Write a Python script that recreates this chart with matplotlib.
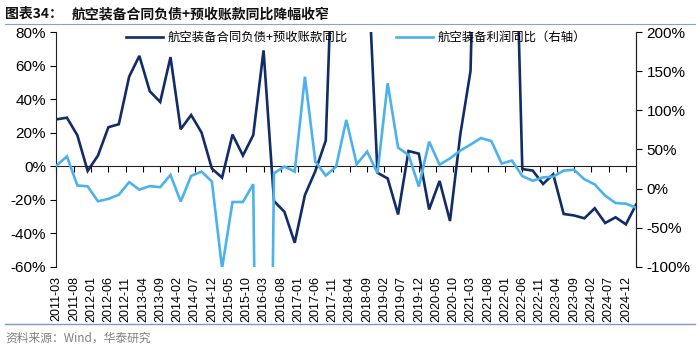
import numpy as np
import pandas as pd
import matplotlib
matplotlib.use("Agg")
import matplotlib.pyplot as plt
from matplotlib.ticker import FuncFormatter, MultipleLocator
from matplotlib.font_manager import FontProperties

plt.rcParams['font.family'] = ['Liberation Sans', 'Noto Sans CJK SC']

# ---------- data (quarterly, 2011-03 .. 2025-03) ----------
quarters = pd.date_range("2011-03-01", periods=57, freq="3MS")
tick_dates = pd.date_range("2011-03-01", "2024-12-01", freq="5MS")

# 航空装备合同负债+预收账款同比 (left axis, %)
contract_yoy = [28.0, 29.0, 18.5, -2.8, 6.4, 23.3, 25.1, 53.5, 65.9, 44.8,
                38.4, 65.2, 22.1, 30.6, 20.1, -1.4, -6.8, 18.9, 6.4, 18.6,
                69.2, -20.8, -27.2, -45.7, -17.2, -2.9, 15.4, 190.0, 260.0, 220.0,
                130.0, -3.9, -7.3, -28.8, 9.1, 7.5, -25.8, -8.8, -32.7, 19.0,
                56.8, 290.0, 350.0, 300.0, 238.0, -1.7, -2.6, -10.6, -4.8, -28.5,
                -29.4, -31.1, -25.1, -33.9, -30.5, -34.7, -22.9]

# 航空装备利润同比 (right axis, %)
profit_yoy = [29.5, 41.1, 4.0, 2.8, -16.3, -13.2, -7.9, 8.2, -1.4, 3.1,
              1.8, 17.5, -16.6, 16.2, 21.7, 9.0, -102.0, -17.2, -17.2, 5.6,
              -1100.0, 19.7, 28.1, 21.7, 143.2, 34.5, 16.6, 28.1, 87.9, 31.2,
              47.3, 19.7, 134.8, 52.4, 43.1, 2.6, 60.1, 30.5, 38.6, 48.6,
              56.3, 64.6, 60.8, 32.0, 35.8, 16.0, 10.0, 14.3, 15.3, 23.0,
              24.1, 11.8, 5.3, -9.0, -18.5, -19.4, -24.5]

label_dark = "航空装备合同负债+预收账款同比"
label_light = "航空装备利润同比（右轴）"

dark = "#112c66"
light = "#4cb2ee"
cjk = FontProperties(family=["Noto Sans CJK SC"], size=8.9)

fig = plt.figure(figsize=(7, 3.53), dpi=100)
ax = fig.add_axes([0.0807, 0.2445, 0.828, 0.664])
ax2 = ax.twinx()

l1, = ax.plot(quarters, contract_yoy, color=dark, lw=1.9, solid_joinstyle="miter")
l2, = ax2.plot(quarters, profit_yoy, color=light, lw=1.9, solid_joinstyle="miter")

ax.set_xlim(quarters[0], quarters[-1])
ax.set_ylim(-60, 80)
ax2.set_ylim(-100, 200)
ax.yaxis.set_major_locator(MultipleLocator(20))
ax2.yaxis.set_major_locator(MultipleLocator(50))
pct = FuncFormatter(lambda v, p: f"{v:.0f}%")
ax.yaxis.set_major_formatter(pct)
ax2.yaxis.set_major_formatter(pct)

for a in (ax, ax2):
    a.spines["top"].set_visible(False)
    a.spines["bottom"].set_visible(False)
    a.tick_params(axis="y", labelsize=11, length=4, width=0.8, colors="#000000")
ax.spines["left"].set_color("#222222")
ax2.spines["right"].set_color("#222222")
ax2.spines["left"].set_visible(False)

# zero line with tick marks
ax.spines["bottom"].set_visible(True)
ax.spines["bottom"].set_position(("data", 0))
ax.spines["bottom"].set_color("#222222")
ax.spines["bottom"].set_linewidth(0.8)
ax.set_xticks(tick_dates)
ax.tick_params(axis="x", direction="out", length=4, width=0.8, labelbottom=False)

# date labels at the bottom
sec = ax.secondary_xaxis(0)
sec.set_xticks(tick_dates)
sec.set_xticklabels([d.strftime("%Y-%m") for d in tick_dates], rotation=90)
sec.tick_params(length=0, labelsize=9, pad=7)
sec.spines["bottom"].set_visible(False)

fig.legend([l1, l2], [label_dark, label_light], loc="upper left",
           bbox_to_anchor=(126 / 700, 1 - 31 / 353), ncol=2, frameon=False,
           prop=cjk, handlelength=3.0, handletextpad=0.35, columnspacing=3.9,
           borderpad=0, borderaxespad=0)

# title, rules and source
title_font = dict(family=["Noto Sans CJK SC"], size=10, weight="bold", color="#111111")
fig.text(5 / 700, 1 - 14 / 353, "图表34：", va="center", ha="left", **title_font)
fig.text(72 / 700, 1 - 14 / 353, "航空装备合同负债+预收账款同比降幅收窄",
         va="center", ha="left", **title_font)
fig.add_artist(plt.Line2D([0.007, 0.993], [1 - 24 / 353] * 2, color="#8aa2c8", lw=0.8))
fig.add_artist(plt.Line2D([0.007, 0.993], [1 - 324 / 353] * 2, color="#7e9ac8", lw=1.0))
fig.text(5 / 700, 1 - 338 / 353, "资料来源：Wind，华泰研究", va="center", ha="left",
         family=["Noto Sans CJK SC", "Liberation Sans"], size=8.5, color="#808080")

fig.savefig("out.png", dpi=100)
